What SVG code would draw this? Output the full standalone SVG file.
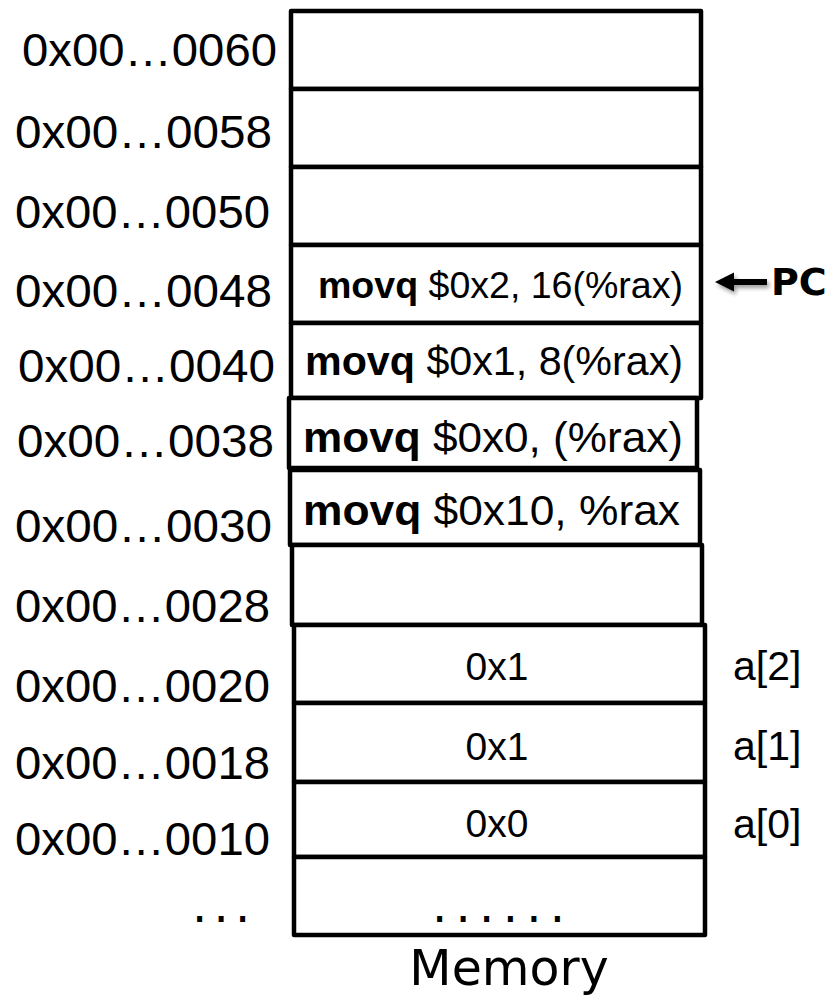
<svg xmlns="http://www.w3.org/2000/svg" width="832" height="996" viewBox="0 0 832 996">
<style>
.cell{fill:#fff;stroke:#000;stroke-width:4.5;stroke-linejoin:round}
.addr{font-family:"Liberation Sans",Arial,sans-serif;font-size:46px;fill:#000}
.ins{font-family:"Liberation Sans",Arial,sans-serif;fill:#000}
.b{font-weight:bold}
.val{font-family:"Liberation Sans",Arial,sans-serif;font-size:39px;fill:#000;text-anchor:middle}
.lbl{font-family:"Liberation Sans",Arial,sans-serif;font-size:41px;fill:#000}
.dots{font-family:"DejaVu Sans",Verdana,sans-serif;font-size:48px;fill:#000}
</style>
<defs>
<filter id="sh" x="-20%" y="-50%" width="140%" height="200%">
<feGaussianBlur in="SourceAlpha" stdDeviation="2"/>
<feOffset dx="2" dy="3" result="o"/>
<feComponentTransfer><feFuncA type="linear" slope="0.4"/></feComponentTransfer>
<feMerge><feMergeNode/><feMergeNode in="SourceGraphic"/></feMerge>
</filter>
</defs>
<rect width="832" height="996" fill="#fff"/>

<g id="cell-0060"><rect class="cell" x="291" y="11" width="410" height="78"/><text class="addr" x="22" y="66" textLength="255" lengthAdjust="spacingAndGlyphs">0x00…0060</text></g>
<g id="cell-0058"><rect class="cell" x="291" y="89" width="410" height="78"/><text class="addr" x="15" y="148" textLength="257" lengthAdjust="spacingAndGlyphs">0x00…0058</text></g>
<g id="cell-0050"><rect class="cell" x="291" y="167" width="410" height="78"/><text class="addr" x="15" y="228" textLength="255" lengthAdjust="spacingAndGlyphs">0x00…0050</text></g>
<g id="cell-0048"><rect class="cell" x="291" y="245" width="410" height="78"/><text class="addr" x="15" y="307" textLength="257" lengthAdjust="spacingAndGlyphs">0x00…0048</text>
<text class="ins" x="318" y="298" font-size="37" textLength="365" lengthAdjust="spacingAndGlyphs"><tspan class="b">movq</tspan> $0x2, 16(%rax)</text></g>
<g id="cell-0040"><rect class="cell" x="291" y="323" width="410" height="75"/><text class="addr" x="18" y="382" textLength="257" lengthAdjust="spacingAndGlyphs">0x00…0040</text>
<text class="ins" x="305" y="375" font-size="41" textLength="378" lengthAdjust="spacingAndGlyphs"><tspan class="b">movq</tspan> $0x1, 8(%rax)</text></g>
<g id="cell-0038"><rect class="cell" x="289" y="398" width="408" height="70"/><text class="addr" x="17" y="457" textLength="257" lengthAdjust="spacingAndGlyphs">0x00…0038</text>
<text class="ins" x="303" y="452" font-size="43" textLength="380" lengthAdjust="spacingAndGlyphs"><tspan class="b">movq</tspan> $0x0, (%rax)</text></g>
<g id="cell-0030"><rect class="cell" x="290" y="470" width="410" height="75"/><text class="addr" x="15" y="542" textLength="257" lengthAdjust="spacingAndGlyphs">0x00…0030</text>
<text class="ins" x="303" y="525" font-size="43" textLength="377" lengthAdjust="spacingAndGlyphs"><tspan class="b">movq</tspan> $0x10, %rax</text></g>
<g id="cell-0028"><rect class="cell" x="292" y="545" width="410" height="80"/><text class="addr" x="15" y="622" textLength="255" lengthAdjust="spacingAndGlyphs">0x00…0028</text></g>
<g id="cell-0020"><rect class="cell" x="294" y="625" width="411" height="78"/><text class="addr" x="15" y="702" textLength="255" lengthAdjust="spacingAndGlyphs">0x00…0020</text>
<text class="val" x="497" y="680">0x1</text><text class="lbl" x="733" y="680">a[2]</text></g>
<g id="cell-0018"><rect class="cell" x="294" y="703" width="411" height="79"/><text class="addr" x="15" y="779" textLength="255" lengthAdjust="spacingAndGlyphs">0x00…0018</text>
<text class="val" x="497" y="760">0x1</text><text class="lbl" x="733" y="760">a[1]</text></g>
<g id="cell-0010"><rect class="cell" x="294" y="782" width="411" height="75"/><text class="addr" x="15" y="855" textLength="255" lengthAdjust="spacingAndGlyphs">0x00…0010</text>
<text class="val" x="497" y="837">0x0</text><text class="lbl" x="733" y="838">a[0]</text></g>
<g id="cell-rest"><rect class="cell" x="294" y="857" width="411" height="78"/>
<text class="dots" x="432" y="922" letter-spacing="8.3">......</text>
<text class="dots" x="192" y="922" letter-spacing="6.3">...</text></g>

<g id="memory-label"><text x="509" y="985" font-family="DejaVu Sans,Verdana,sans-serif" font-size="49" text-anchor="middle">Memory</text></g>

<g id="connectors">
<g id="pc-arrow" filter="url(#sh)">
<line x1="767" y1="282" x2="730" y2="282" stroke="#000" stroke-width="6"/>
<polygon points="715,282 734,272.5 734,291.5" fill="#000"/>
</g>
</g>
<g id="pc"><text x="771" y="295" font-family="DejaVu Sans,Verdana,sans-serif" font-weight="bold" font-size="38">PC</text></g>
</svg>
